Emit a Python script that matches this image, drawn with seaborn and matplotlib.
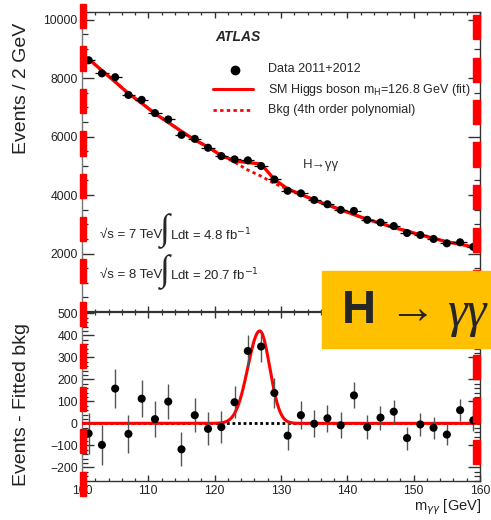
import numpy as np
import pandas as pd
import matplotlib
matplotlib.use("Agg")
import matplotlib.pyplot as plt
import seaborn as sns
from matplotlib import font_manager as fm
from matplotlib.lines import Line2D
from matplotlib.patches import Rectangle
from matplotlib.ticker import MultipleLocator

# ---------------- data ----------------
mass = [101, 103, 105, 107, 109, 111, 113, 115, 117, 119,
        121, 123, 125, 127, 129, 131, 133, 135, 137, 139,
        141, 143, 145, 147, 149, 151, 153, 155, 157, 159]
events = [8610, 8160, 8030, 7424, 7254, 6803, 6586, 6058, 5922, 5617,
          5332, 5220, 5186, 4993, 4532, 4146, 4058, 3830, 3685, 3492,
          3458, 3152, 3061, 2939, 2702, 2634, 2498, 2349, 2383, 2227]
errors = [93, 90, 90, 86, 85, 82, 81, 78, 77, 75,
          73, 72, 72, 71, 67, 64, 64, 62, 61, 59,
          59, 56, 55, 54, 52, 51, 50, 48, 49, 47]
background = [8656, 8258, 7872, 7472, 7142, 6784, 6487, 6176, 5885, 5642,
              5349, 5124, 4857, 4644, 4394, 4202, 4021, 3832, 3662, 3501,
              3331, 3169, 3035, 2886, 2769, 2639, 2518, 2400, 2323, 2213]
residual = [-46, -98, 158, -48, 112, 19, 99, -118, 37, -25,
            -17, 96, 329, 349, 138, -56, 37, -2, 23, -9,
            127, -17, 26, 53, -67, -5, -20, -51, 60, 14]
# fitted signal model (m_H = 126.8 GeV)
sig_mass = 126.8
sig_peak = 420
sig_width_low = 1.8
sig_width_high = 1.5

yticks_top = [2000, 4000, 6000, 8000, 10000]
yticks_bottom = [-200, -100, 0, 100, 200, 300, 400, 500]
xticks = [100, 110, 120, 130, 140, 150, 160]

# ---------------- style ----------------
sns.set_theme(style="ticks")
def has_font(name):
    try:
        fm.findfont(fm.FontProperties(family=name), fallback_to_default=False)
        return True
    except Exception:
        return False
narrow = "Liberation Sans Narrow" if has_font("Liberation Sans Narrow") else "Liberation Sans"
plt.rcParams["font.family"] = [narrow, "DejaVu Sans"]
plt.rcParams["mathtext.fontset"] = "dejavusans"

W, H = 491, 520
fig = plt.figure(figsize=(W / 100, H / 100), dpi=100)
fig.patch.set_facecolor("white")

def fx(px):
    return px / W
def fy(py):
    return 1 - py / H

ax1 = fig.add_axes([fx(82), fy(312), (480 - 82) / W, 300 / H])
ax2 = fig.add_axes([fx(82), fy(481), (480 - 82) / W, 169 / H])

def gauss(x):
    x = np.asarray(x, dtype=float)
    w = np.where(x < sig_mass, sig_width_low, sig_width_high)
    return sig_peak * np.exp(-0.5 * ((x - sig_mass) / w) ** 2)

df = pd.DataFrame({"mass": mass, "events": events, "err": errors,
                   "bkg": background, "res": residual})
df["fit"] = df["bkg"] + gauss(df["mass"])

# ---------------- top panel ----------------
sns.lineplot(data=df, x="mass", y="bkg", ax=ax1, color="red", lw=2.0,
             linestyle=(0, (1.2, 1.2)), zorder=2)
sns.lineplot(data=df, x="mass", y="fit", ax=ax1, color="red", lw=2.4, zorder=3)
ax1.errorbar(df["mass"], df["events"], yerr=df["err"], xerr=1, fmt="none",
             ecolor="black", elinewidth=0.9, zorder=4)
sns.scatterplot(data=df, x="mass", y="events", ax=ax1, color="black", s=34,
                edgecolor="none", zorder=5)
ax1.set_xlim(100, 160)
ax1.set_ylim(0, 10260)
ax1.set_yticks(yticks_top)
ax1.yaxis.set_minor_locator(MultipleLocator(500))
ax1.set_xticks(xticks)
ax1.xaxis.set_minor_locator(MultipleLocator(2))
ax1.set_xticklabels([])
ax1.set_xlabel("")
ax1.set_ylabel("")

# ---------------- bottom panel ----------------
xf = np.linspace(100, 160, 601)
curve = pd.DataFrame({"m": xf, "s": gauss(xf)})
ax2.plot([100, 160], [0, 0], color="black", lw=2.0, linestyle=(0, (1, 1)), zorder=2)
sns.lineplot(data=curve, x="m", y="s", ax=ax2, color="red", lw=2.2, zorder=3)
ax2.errorbar(df["mass"], df["res"], yerr=df["err"], fmt="none",
             ecolor="#555555", elinewidth=1.0, zorder=4)
sns.scatterplot(data=df, x="mass", y="res", ax=ax2, color="black", s=34,
                edgecolor="none", zorder=5)
ax2.set_xlim(100, 160)
ax2.set_ylim(-262, 506)
ax2.set_yticks(yticks_bottom)
ax2.yaxis.set_minor_locator(MultipleLocator(20))
ax2.set_xticks(xticks)
ax2.xaxis.set_minor_locator(MultipleLocator(2))
ax2.set_xlabel("")
ax2.set_ylabel("")

for ax in (ax1, ax2):
    for s in ax.spines.values():
        s.set_color("#333333")
        s.set_linewidth(1.0)
        s.set_visible(True)
    ax.spines["left"].set_color("#777777")
    ax.tick_params(axis="both", which="both", direction="in", top=True, right=True,
                   colors="#333333", labelcolor="#222222", labelsize=8.7)
    ax.tick_params(axis="y", which="major", length=8.5, width=1.0, pad=3)
    ax.tick_params(axis="y", which="minor", length=4.3, width=0.9)
    ax.tick_params(axis="x", which="major", length=4.3, width=1.0, pad=3)
    ax.tick_params(axis="x", which="minor", length=2.2, width=0.9)
    ax.set_facecolor("white")
ax2.spines["top"].set_linewidth(1.6)

# ---------------- texts ----------------
fig.text(fx(22), fy(88), "Events / 2 GeV", rotation=90, fontsize=14,
         ha="center", va="center", color="#222222", family=["Liberation Sans", "DejaVu Sans"])
fig.text(fx(22), fy(405), "Events - Fitted bkg", rotation=90, fontsize=14,
         ha="center", va="center", color="#222222", family=["Liberation Sans", "DejaVu Sans"])
fig.text(fx(481), fy(507), r"m$_{\gamma\gamma}$ [GeV]", fontsize=10.5,
         ha="right", va="center", color="#222222")

fig.text(fx(215), fy(37), "ATLAS", fontsize=10, fontweight="bold", fontstyle="italic",
         ha="left", va="center", family=["Liberation Sans", "DejaVu Sans"])
fig.add_artist(Line2D([fx(235)], [fy(70)], marker="o", markersize=6, color="black",
                      transform=fig.transFigure))
fig.add_artist(Line2D([fx(213), fx(253)], [fy(89), fy(89)], color="red", lw=2.2,
                      transform=fig.transFigure))
fig.add_artist(Line2D([fx(213), fx(253)], [fy(110), fy(110)], color="red", lw=2.0,
                      linestyle=(0, (1.2, 1.2)), transform=fig.transFigure))
fig.text(fx(268), fy(69), "Data 2011+2012", fontsize=9, ha="left", va="center")
fig.text(fx(268), fy(90), r"SM Higgs boson m$_{\rm H}$=126.8 GeV (fit)", fontsize=9,
         ha="left", va="center")
fig.text(fx(268), fy(110), "Bkg (4th order polynomial)", fontsize=9, ha="left", va="center")
fig.text(fx(303), fy(165), "H\u2192\u03b3\u03b3", fontsize=9.5, ha="left", va="center",
         color="#333333")

fig.text(fx(100), fy(235), "\u221as = 7 TeV", fontsize=9.5, ha="left", va="center")
fig.text(fx(165), fy(231), "\u222b", fontsize=26, ha="center", va="center",
         family=["Liberation Serif", "DejaVu Serif"])
fig.text(fx(170), fy(235), r"Ldt = 4.8 fb$^{-1}$", fontsize=9.5, ha="left", va="center")
fig.text(fx(100), fy(275), "\u221as = 8 TeV", fontsize=9.5, ha="left", va="center")
fig.text(fx(165), fy(272), "\u222b", fontsize=26, ha="center", va="center",
         family=["Liberation Serif", "DejaVu Serif"])
fig.text(fx(170), fy(275), r"Ldt = 20.7 fb$^{-1}$", fontsize=9.5, ha="left", va="center")

# ---------------- overlay decorations ----------------
for k in range(12):
    y0 = 4 + 42.5 * k
    fig.add_artist(Rectangle((fx(80), fy(y0 + 24)), 6 / W, 24 / H, color="red",
                             transform=fig.transFigure, zorder=10))
for k in range(11):
    y0 = 15 + 42.5 * k
    fig.add_artist(Rectangle((fx(473), fy(y0 + 24)), 7 / W, 24 / H, color="red",
                             transform=fig.transFigure, zorder=10))

fig.add_artist(Rectangle((fx(322), fy(348)), (491 - 322) / W, (348 - 271) / H,
                         color="#FFC000", transform=fig.transFigure, zorder=11))
fig.text(fx(342), fy(311), "H \u2192", fontsize=34, fontweight="bold", ha="left",
         va="center", family=["Liberation Sans", "DejaVu Sans"], zorder=12)
fig.text(fx(447), fy(314), "\u03b3\u03b3", fontsize=36, fontstyle="italic", ha="left",
         va="center", family=["Liberation Serif", "DejaVu Serif"], zorder=12)

fig.savefig("out.png", dpi=100)
